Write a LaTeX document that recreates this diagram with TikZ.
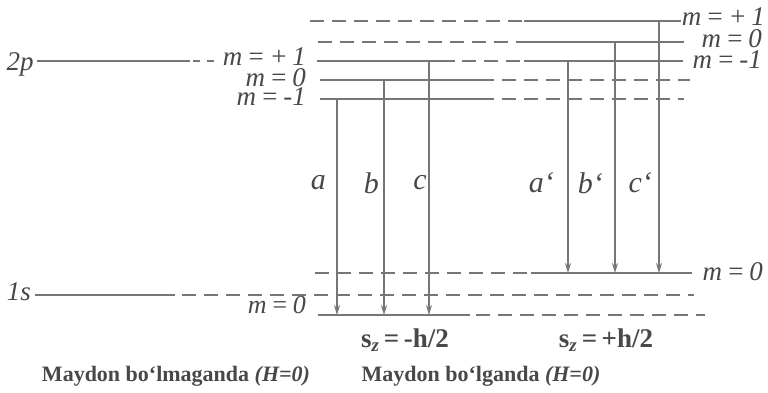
\documentclass[tikz,border=0pt]{standalone}
\usepackage{fontspec}
\setmainfont{Liberation Serif}
\usetikzlibrary{arrows.meta}
\definecolor{lvlgray}{RGB}{118,118,118}
\definecolor{txtgray}{RGB}{72,72,72}
\tikzset{
  level/.style={line width=2.2pt, color=lvlgray},
  split/.style={level, dash pattern=on 14pt off 8pt},
  trans/.style={line width=1.6pt, color=lvlgray, -{Stealth[length=10pt,width=6pt]}},
  mlabel/.style={font=\itshape\fontsize{27}{27}\selectfont, text=txtgray, inner sep=0pt,
                 text height=17pt, text depth=0pt},
  letter/.style={font=\itshape\fontsize{30}{30}\selectfont, text=txtgray, inner sep=0pt},
  spinlabel/.style={font=\bfseries\fontsize{27}{27}\selectfont, text=txtgray, inner sep=0pt},
  caption/.style={font=\bfseries\fontsize{22}{22}\selectfont, text=txtgray, inner sep=0pt}
}
\begin{document}
\begin{tikzpicture}[x=1pt,y=-1pt]
\useasboundingbox (0,0) rectangle (768,393);
\def\yA{21}  % H>0: m=+1
\def\yB{42}  % H>0: m=0
\def\yC{61}  % 2p m=+1 / H>0 m=-1
\def\yD{80}
\def\yE{99}
\def\yF{273} % 1s, H>0
\def\yG{295} % 1s
\def\yH{315} % 1s, H=0

%2p level
\node[mlabel] (tp) at (20,62) {2p};
\draw[level] (37,\yC) -- (190,\yC);
\draw[level, dash pattern=on 7pt off 7pt] (193,\yC) -- (216,\yC);

%split 2p levels
\draw[split] (310,\yA) -- (524,\yA);
\draw[level] (524,\yA) -- (681,\yA);
\draw[split] (318,\yB) -- (524,\yB);
\draw[level] (524,\yB) -- (684,\yB);
\draw[level] (317,\yC) -- (455,\yC);
\draw[split, line width=1.4pt] (462,\yC) -- (524,\yC);
\draw[level] (524,\yC) -- (683,\yC);
\draw[level] (320,\yD) -- (480,\yD);
\draw[split] (480,\yD) -- (690,\yD);
\draw[level] (320,\yE) -- (480,\yE);
\draw[split] (480,\yE) -- (684,\yE);

%1s level
\node[mlabel] (os) at (19,292) {1s};
\draw[level] (35,\yG) -- (175,\yG);
\draw[split] (182,\yG) -- (694,\yG);
\draw[split] (315,\yF) -- (531,\yF);
\draw[level] (531,\yF) -- (692,\yF);
\draw[level] (318,\yH) -- (470,\yH);
\draw[split] (476,\yH) -- (705,\yH);

%m labels
\node[mlabel, anchor=east] (mpL) at (306,57) {m\,=\,+\,1};
\node[mlabel, anchor=east] (mzL) at (306,78) {m\,=\,0};
\node[mlabel, anchor=east] (mmL) at (306,97) {m\,=\,-1};
\node[mlabel, anchor=east] (mpR) at (765,17) {m\,=\,+\,1};
\node[mlabel, anchor=east] (mzR) at (762,39) {m\,=\,0};
\node[mlabel, anchor=east] (mmR) at (762,60) {m\,=\,-1};
\node[mlabel, anchor=base east, font=\itshape\fontsize{26}{26}\selectfont] (msL) at (306,313) {m\,=\,0};
\node[mlabel, anchor=east] (msR) at (763,272) {m\,=\,0};

%transitions
\foreach \nm/\x/\yt/\yb in {a/337/\yE/\yH, b/384/\yD/\yH, c/429/\yC/\yH,
                             ap/568/\yC/\yF, bp/615/\yB/\yF, cp/659/\yA/\yF}{
  \coordinate (\nm T) at (\x,\yt);
  \coordinate (\nm B) at (\x,\yb);
}
\draw[trans] (aT) -- (aB);
\draw[trans] (bT) -- (bB);
\draw[trans] (cT) -- (cB);
\draw[trans] (apT) -- (apB);
\draw[trans] (bpT) -- (bpB);
\draw[trans] (cpT) -- (cpB);

\node[letter, anchor=east] (la) at (326,183) {a};
\node[letter, anchor=east] (lb) at (379,183) {b};
\node[letter, anchor=east] (lc) at (427,183) {c};
\node[letter, anchor=east] (lap) at (554,183) {a`};
\node[letter, anchor=east] (lbp) at (603,183) {b`};
\node[letter, anchor=east] (lcp) at (652,183) {c`};

%spin and field labels
\node[spinlabel] (szL) at (405,340) {s\textsubscript{\itshape z}\,=\,-h/2};
\node[spinlabel] (szR) at (606,340) {s\textsubscript{\itshape z}\,=\,+h/2};
\node[caption] (cL) at (176,376) {Maydon bo`lmaganda \textit{(H=0)}};
\node[caption] (cR) at (481,376) {Maydon bo`lganda \textit{(H=0)}};
\end{tikzpicture}
\end{document}
